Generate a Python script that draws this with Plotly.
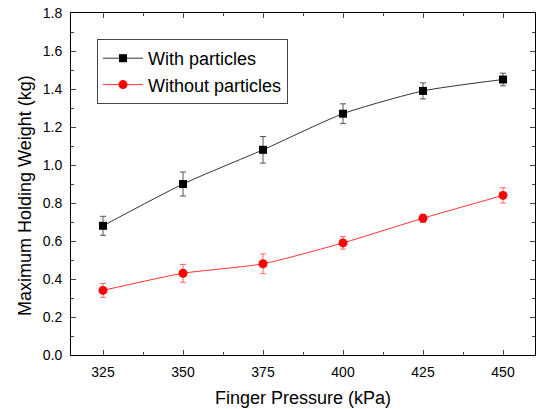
import plotly.graph_objects as go

pressure = [325, 350, 375, 400, 425, 450]
with_particles = [0.68, 0.90, 1.08, 1.27, 1.39, 1.45]
with_err = [0.05, 0.063, 0.07, 0.052, 0.042, 0.033]
without_particles = [0.34, 0.43, 0.48, 0.59, 0.72, 0.84]
without_err = [0.036, 0.047, 0.052, 0.033, 0.021, 0.04]

fig = go.Figure()
fig.add_trace(go.Scatter(
    x=pressure, y=with_particles, name="With particles",
    mode="lines+markers",
    line=dict(color="#333333", width=1, shape="spline", smoothing=0.6),
    marker=dict(symbol="square", size=8, color="black"),
    error_y=dict(type="data", array=with_err, color="#555555", thickness=1, width=3),
))
fig.add_trace(go.Scatter(
    x=pressure, y=without_particles, name="Without particles",
    mode="lines+markers",
    line=dict(color="#ff3333", width=1, shape="spline", smoothing=0.6),
    marker=dict(symbol="circle", size=9, color="#ff0000"),
    error_y=dict(type="data", array=without_err, color="#ff6666", thickness=1, width=3),
))

font = "Arial, Liberation Sans, sans-serif"
fig.update_layout(
    width=538, height=409,
    margin=dict(l=71, r=3, t=13, b=54, autoexpand=False),
    plot_bgcolor="white", paper_bgcolor="white",
    font=dict(family=font, size=14, color="black"),
    showlegend=True,
    legend=dict(
        x=0.056, y=0.924, xanchor="left", yanchor="top",
        bordercolor="#444444", borderwidth=1, bgcolor="white",
        font=dict(size=18), itemwidth=40, tracegroupgap=0,
    ),
    xaxis=dict(
        range=[315, 460], tickvals=pressure, ticks="inside", ticklen=5,
        minor=dict(ticks="inside", ticklen=3, dtick=12.5, tick0=312.5),
        showline=True, linecolor="black", linewidth=1, mirror="ticks",
        showgrid=False, zeroline=False, ticklabelstandoff=4,
        title=dict(text="Finger Pressure (kPa)", font=dict(size=18), standoff=12),
    ),
    yaxis=dict(
        range=[0, 1.8], dtick=0.2, tick0=0, tickformat=".1f",
        ticks="inside", ticklen=5,
        minor=dict(ticks="inside", ticklen=3, dtick=0.1),
        showline=True, linecolor="black", linewidth=1, mirror="ticks",
        showgrid=False, zeroline=False, ticklabelstandoff=5,
    ),
    annotations=[dict(
        text="Maximum Holding Weight (kg)", textangle=-90,
        xref="paper", yref="paper", x=(25 - 71) / 464, y=(355 - 196) / 342,
        xanchor="center", yanchor="middle", showarrow=False,
        font=dict(size=18, family=font, color="black"),
    )],
)
fig.write_html("out.html", config={"displayModeBar": False},
               post_script="document.body.style.margin='0';")
